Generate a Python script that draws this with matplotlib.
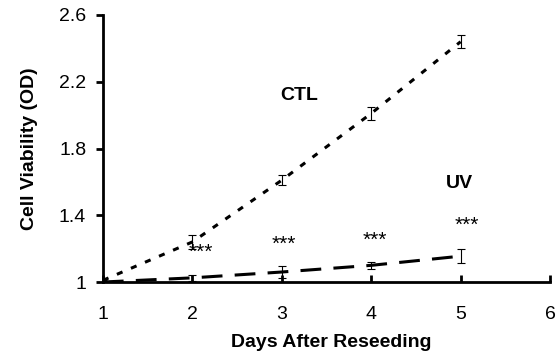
import numpy as np
import matplotlib.pyplot as plt

plt.rcParams['font.family'] = ['Liberation Sans', 'DejaVu Sans']

days = [1, 2, 3, 4, 5]
ctl = [1.01, 1.24, 1.61, 2.01, 2.44]
ctl_err = [0.01, 0.04, 0.03, 0.04, 0.04]
uv = [1.00, 1.025, 1.06, 1.10, 1.155]
uv_err = [0.01, 0.02, 0.035, 0.02, 0.04]
sig_days = [2, 3, 4, 5]
sig_labels = ["***", "***", "***", "***"]

x_ticks = [1, 2, 3, 4, 5, 6]
y_ticks = [1, 1.4, 1.8, 2.2, 2.6]
y_tick_labels = ["1", "1.4", "1.8", "2.2", "2.6"]

fig = plt.figure(figsize=(5.59, 3.57), dpi=100)
ax = fig.add_axes([0.184, 0.21, 0.800, 0.748])

# trend lines through the means
ax.plot(days, ctl, color='black', lw=2.2, dashes=(2, 3), dash_capstyle='butt')
ax.plot(days, uv, color='black', lw=2.2, dashes=(6.8, 4), dash_capstyle='butt')

ax.errorbar(days, ctl, yerr=ctl_err, fmt='none', ecolor='black', elinewidth=0.8, capsize=3, capthick=0.8)
ax.errorbar(days, uv, yerr=uv_err, fmt='none', ecolor='black', elinewidth=0.8, capsize=3, capthick=0.8)

# significance stars
star_dx = [0.09, 0.02, 0.04, 0.07]
star_y = [1.175, 1.225, 1.25, 1.34]
for d, dx, sy, lab in zip(sig_days, star_dx, star_y, sig_labels):
    ax.text(d + dx, sy, lab, ha='center', va='center', fontsize=15)

ax.text(3.19, 2.12, "CTL", ha='center', va='center', fontsize=14, fontweight='bold')
ax.text(4.99, 1.59, "UV", ha='center', va='center', fontsize=14, fontweight='bold')

ax.set_xlim(1, 6)
ax.set_ylim(1, 2.6)
ax.set_xticks(x_ticks)
ax.set_yticks(y_ticks)
ax.set_yticklabels(y_tick_labels)

for side in ['top', 'right']:
    ax.spines[side].set_visible(False)
for side in ['left', 'bottom']:
    ax.spines[side].set_linewidth(2.0)

ax.tick_params(axis='x', direction='in', length=5, width=2.0, pad=17, labelsize=14)
ax.tick_params(axis='y', direction='out', length=5, width=2.0, pad=7, labelsize=14)

ax.set_xlabel("Days After Reseeding", fontsize=14, fontweight='bold')
ax.set_ylabel("Cell Viability (OD)", fontsize=14, fontweight='bold')
ax.xaxis.set_label_coords(0.511, -0.196)
ax.yaxis.set_label_coords(-0.145, 0.5)

fig.savefig("out.png", dpi=100)
